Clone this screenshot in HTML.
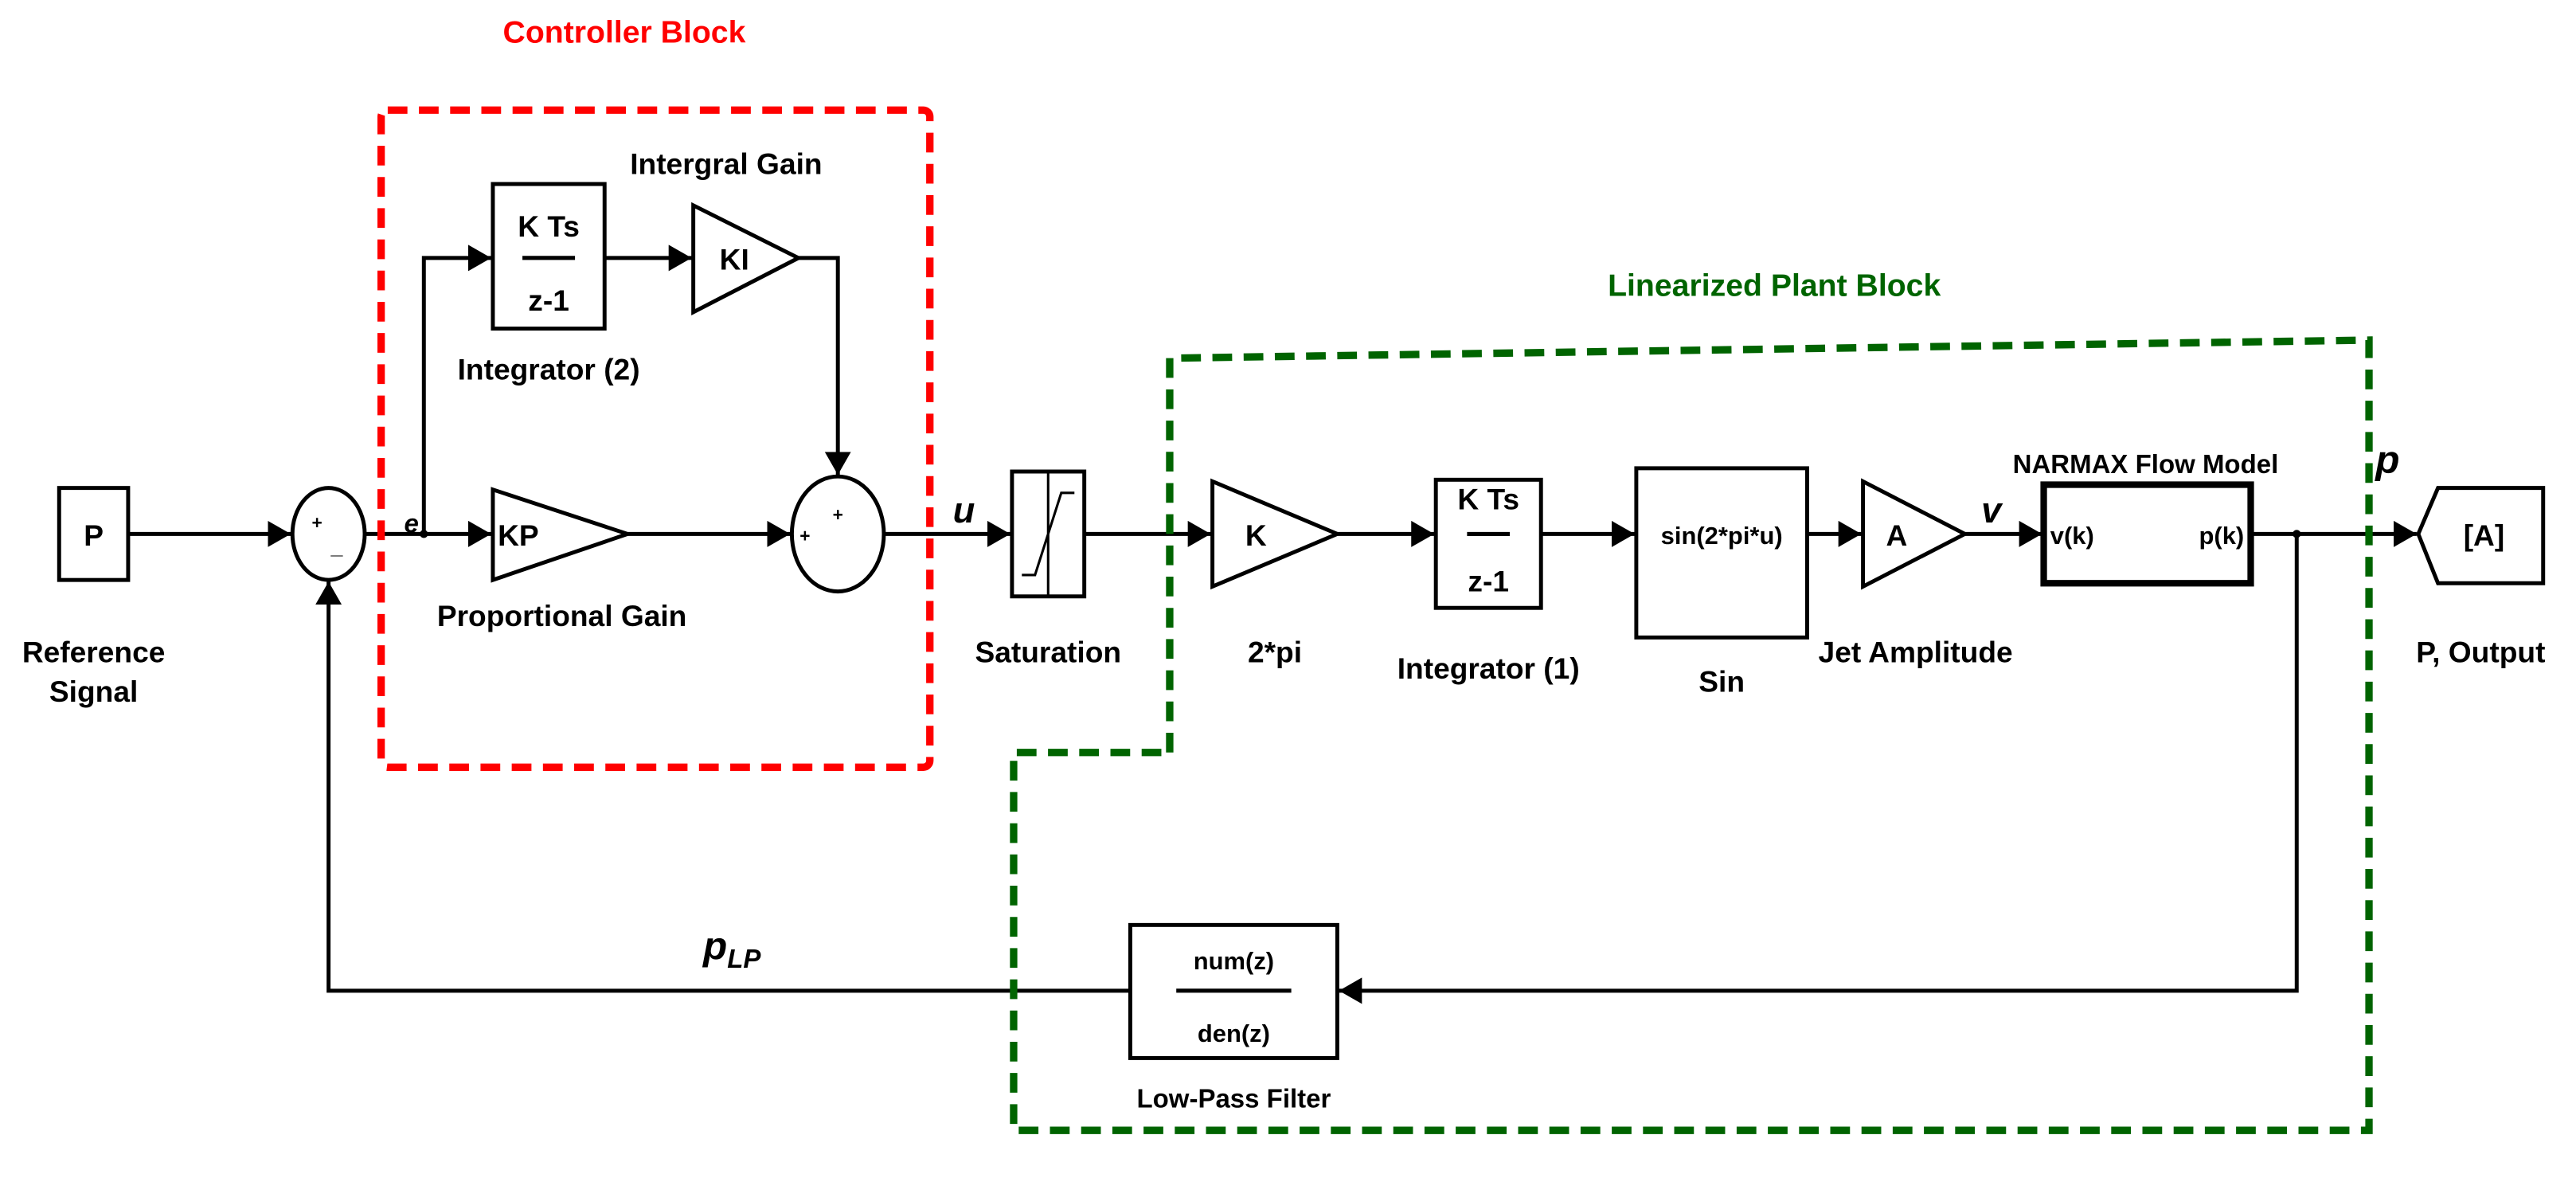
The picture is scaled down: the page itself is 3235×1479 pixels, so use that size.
<!DOCTYPE html>
<html><head><meta charset="utf-8"><style>
html,body{margin:0;padding:0;background:#fff}
svg{display:block}
text{font-family:"Liberation Sans",sans-serif;font-weight:bold}
</style></head><body>
<svg width="3235" height="1479" viewBox="0 0 1568 717" preserveAspectRatio="none" xmlns="http://www.w3.org/2000/svg">
<defs>
<marker id="ar" viewBox="0 0 10 10" refX="10" refY="5" markerWidth="14" markerHeight="16" markerUnits="userSpaceOnUse" orient="auto" preserveAspectRatio="none"><path d="M0,0 L10,5 L0,10 z" fill="#000"/></marker>
</defs>
<rect width="1568" height="717" fill="#fff"/>
<g stroke="#000" stroke-width="2.4" fill="none">
<path d="M78,325 H177" marker-end="url(#ar)"/>
<path d="M222,325 H299" marker-end="url(#ar)"/>
<path d="M258,325 V157 H299" marker-end="url(#ar)"/>
<path d="M368,157 H421" marker-end="url(#ar)"/>
<path d="M486,157 H510 V289" marker-end="url(#ar)"/>
<path d="M382,325 H481" marker-end="url(#ar)"/>
<path d="M538,325 H615" marker-end="url(#ar)"/>
<path d="M660,325 H737" marker-end="url(#ar)"/>
<path d="M814,325 H873" marker-end="url(#ar)"/>
<path d="M938,325 H995" marker-end="url(#ar)"/>
<path d="M1100,325 H1133" marker-end="url(#ar)"/>
<path d="M1196,325 H1243" marker-end="url(#ar)"/>
<path d="M1370,325 H1471" marker-end="url(#ar)"/>
<path d="M1398,325 V603 H815" marker-end="url(#ar)"/>
<path d="M688,603 H200 V354" marker-end="url(#ar)"/>
<rect x="36" y="297" width="42" height="56"/>
<ellipse cx="200" cy="325" rx="22" ry="28"/>
<rect x="300" y="112" width="68" height="88"/>
<path d="M422,125 L486,157 L422,190 z"/>
<path d="M300,298 L382,325 L300,353 z"/>
<ellipse cx="510" cy="325" rx="28" ry="35"/>
<rect x="616" y="287" width="44" height="76"/>
<path d="M638,287 V363 M622,350 L630,350 L646,300 L654,300" stroke-width="1.5"/>
<path d="M738,293 L814,325 L738,357 z"/>
<rect x="874" y="292" width="64" height="78"/>
<rect x="996" y="285" width="104" height="103"/>
<path d="M1134,293 L1196,325 L1134,357 z"/>
<rect x="1244" y="295" width="126" height="60" stroke-width="4"/>
<path d="M1484,297 H1548 V355 H1484 L1472,325 z"/>
<rect x="688" y="563" width="126" height="81"/>
<path d="M893,325 H919 M318,157 H350 M716,603 H786" stroke-width="2.5"/>
</g>
<circle cx="1398" cy="325" r="2.5" fill="#000"/>
<circle cx="258" cy="325" r="2.5" fill="#000"/>
<rect x="232" y="67" width="334" height="400" rx="4" fill="none" stroke="#f00" stroke-width="4.5" stroke-dasharray="12,7"/>
<path d="M712,458 V218 L1442,207 V688 H617 V458 H712" fill="none" stroke="#006400" stroke-width="4.5" stroke-dasharray="12,7"/>
<g font-size="18" text-anchor="middle" fill="#000">
<text x="380" y="26" fill="#f00" font-size="19">Controller Block</text>
<text x="1080" y="180" fill="#006400" font-size="19">Linearized  Plant  Block</text>
<text x="57" y="332">P</text>
<text x="57" y="403">Reference</text>
<text x="57" y="427">Signal</text>
<text x="334" y="144">K Ts</text>
<text x="334" y="189">z-1</text>
<text x="334" y="231">Integrator (2)</text>
<text x="442" y="106">Intergral Gain</text>
<text x="438" y="164" text-anchor="start">KI</text>
<text x="303" y="332" text-anchor="start">KP</text>
<text x="342" y="381">Proportional Gain</text>
<text x="638" y="403">Saturation</text>
<text x="758" y="332" text-anchor="start">K</text>
<text x="776" y="403">2*pi</text>
<text x="906" y="310">K Ts</text>
<text x="906" y="360">z-1</text>
<text x="906" y="413">Integrator (1)</text>
<text x="1048" y="331" font-size="15">sin(2*pi*u)</text>
<text x="1048" y="421">Sin</text>
<text x="1148" y="332" text-anchor="start">A</text>
<text x="1166" y="403">Jet Amplitude</text>
<text x="1248" y="331" text-anchor="start" font-size="15">v(k)</text>
<text x="1366" y="331" text-anchor="end" font-size="15">p(k)</text>
<text x="1306" y="288" font-size="16">NARMAX Flow Model</text>
<text x="1512" y="332">[A]</text>
<text x="1510" y="403">P, Output</text>
<text x="751" y="590" font-size="15">num(z)</text>
<text x="751" y="634" font-size="15">den(z)</text>
<text x="751" y="674" font-size="16">Low-Pass Filter</text>
<text x="193" y="322" font-size="11">+</text>
<text x="205" y="337" font-size="13">_</text>
<text x="510" y="317" font-size="11">+</text>
<text x="490" y="330" font-size="11">+</text>
</g>
<g font-family="Liberation Serif,serif" font-style="italic" font-weight="bold" fill="#000">
<text x="246" y="324" font-size="16">e</text>
<text x="580" y="318" font-size="22">u</text>
<text x="1206" y="318" font-size="22">v</text>
<text x="1446" y="288" font-size="24">p</text>
<text x="428" y="584" font-size="24">p<tspan font-size="16" dy="5">LP</tspan></text>
</g>
</svg>
</body></html>
